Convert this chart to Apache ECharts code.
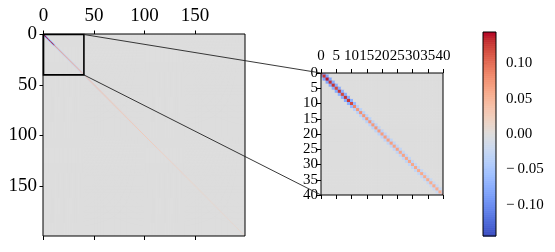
<!DOCTYPE html>
<html><head><meta charset="utf-8">
<script src="https://cdn.jsdelivr.net/npm/echarts@6/dist/echarts.min.js"></script>
<style>html,body{margin:0;padding:0;background:#fff}#c{width:555px;height:252px}</style>
</head><body><div id="c"></div>
<script>
// ---- data ----
const matrixSize = 200;
const diagValues = [
 0.11,0.13,0.14,0.13,0.13,0.12,0.13,0.12,0.13,0.13,0.12,
 0.085,0.075,0.080,0.075,0.074,0.076,0.072,0.074,0.071,0.070,
 0.070,0.068,0.069,0.066,0.067,0.064,0.065,0.062,0.063,0.061,
 0.062,0.060,0.061,0.059,0.060,0.058,0.059,0.057,0.058,0.065,
 0.052,0.050,0.051,0.049,0.050,0.048,0.049,0.047,0.048,0.046,0.047,0.045,0.046,0.045,0.044,0.045,0.043,0.044,0.042,0.043,
 0.042,0.041,0.042,0.040,0.041,0.040,0.039,0.040,0.038,0.039,0.038,0.037,0.038,0.037,0.036,0.037,0.036,0.035,0.036,0.035,
 0.034,0.035,0.034,0.033,0.034,0.033,0.032,0.033,0.032,0.031,0.032,0.031,0.030,0.031,0.030,0.030,0.029,0.030,0.029,0.028,
 0.029,0.028,0.028,0.027,0.028,0.027,0.027,0.026,0.027,0.026,0.026,0.025,0.026,0.025,0.025,0.024,0.025,0.024,0.024,0.023,
 0.024,0.023,0.023,0.023,0.022,0.023,0.022,0.022,0.021,0.022,0.021,0.021,0.021,0.020,0.021,0.020,0.020,0.020,0.019,0.020,
 0.019,0.019,0.019,0.019,0.018,0.019,0.018,0.018,0.018,0.018,0.017,0.018,0.017,0.017,0.017,0.017,0.016,0.017,0.016,0.016,
 0.016,0.016,0.016,0.015,0.016,0.015,0.015,0.015,0.015,0.015,0.014,0.015,0.014,0.014,0.014,0.014,0.014,0.013,0.014,0.013,
 0.013,0.013,0.013,0.013,0.013,0.012,0.013,0.012,0.012,0.012,0.012,0.012,0.012,0.011,0.012,0.011,0.011,0.011,0.011
];
const offDiagValues = [
 -0.075,-0.085,-0.080,-0.078,-0.074,-0.076,-0.072,-0.074,-0.075,-0.072,-0.062,
 -0.036,-0.034,-0.035,-0.033,-0.034,-0.032,-0.033,-0.031,-0.032,-0.030,
 -0.030,-0.029,-0.029,-0.028,-0.028,-0.027,-0.027,-0.026,-0.026,-0.025,
 -0.025,-0.024,-0.024,-0.023,-0.023,-0.022,-0.022,-0.021,-0.021,-0.020,
 -0.018,-0.016,-0.015,-0.014,-0.013,-0.012,-0.011,-0.011,-0.010,-0.010,-0.009,-0.009,-0.008,-0.008,-0.008,-0.007,-0.007,-0.007,-0.006,-0.006,
 -0.006,-0.006,-0.006,-0.006,-0.005,-0.005,-0.005,-0.005,-0.005,-0.005,-0.005,-0.005,-0.005,-0.004,-0.004,-0.004,-0.004,-0.004,-0.004,-0.004,
 -0.004,-0.004,-0.004,-0.004,-0.004,-0.004,-0.004,-0.004,-0.004,-0.004,-0.003,-0.003,-0.003,-0.003,-0.003,-0.003,-0.003,-0.003,-0.003,-0.003,
 -0.003,-0.003,-0.003,-0.003,-0.003,-0.003,-0.003,-0.003,-0.003,-0.003,-0.003,-0.003,-0.003,-0.003,-0.003,-0.003,-0.003,-0.003,-0.003,-0.003,
 -0.003,-0.003,-0.003,-0.003,-0.003,-0.003,-0.003,-0.003,-0.003,-0.003,-0.003,-0.003,-0.003,-0.003,-0.003,-0.003,-0.003,-0.003,-0.003,-0.003,
 -0.002,-0.002,-0.002,-0.002,-0.002,-0.002,-0.002,-0.002,-0.002,-0.002,-0.002,-0.002,-0.002,-0.002,-0.002,-0.002,-0.002,-0.002,-0.002,-0.002,
 -0.002,-0.002,-0.002,-0.002,-0.002,-0.002,-0.002,-0.002,-0.002,-0.002,-0.002,-0.002,-0.002,-0.002,-0.002,-0.002,-0.002,-0.002,-0.002,-0.002,
 -0.002,-0.002,-0.002,-0.002,-0.002,-0.002,-0.002,-0.002,-0.002,-0.002,-0.002,-0.002,-0.002,-0.002,-0.002,-0.002,-0.002,-0.002
];
const mainTicks = [0, 50, 100, 150];
const insetRange = [0, 40];
const insetTickStep = 5;
const colorbarTicks = [-0.10, -0.05, 0.00, 0.05, 0.10];
const colorMin = -0.144, colorMax = 0.144;
const coolwarm = ['#3b4cc0','#445acc','#4d68d7','#5775e1','#6282ea','#6c8ef1','#779af7','#82a5fb','#8db0fe','#98b9ff','#a3c2ff','#aec9fd','#b8d0f9','#c2d5f4','#ccd9ee','#d5dbe6','#dddddd','#e5d8d1','#ecd3c5','#f1ccb9','#f5c4ad','#f7bba0','#f7b194','#f7a687','#f49a7b','#f18d6f','#ec7f63','#e57058','#de604d','#d55042','#cb3e38','#c0282f','#b40426'];

// ---- build matrix ----
function cellValue(i, j) {
  if (i === j) return diagValues[i];
  if (Math.abs(i - j) === 1) return offDiagValues[Math.min(i, j)];
  return 0;
}
const mainData = [];
for (let y = 0; y < matrixSize; y++) for (let x = 0; x < matrixSize; x++) mainData.push([x, y, cellValue(x, y)]);
const insetData = [];
for (let y = insetRange[0]; y <= insetRange[1]; y++) for (let x = insetRange[0]; x <= insetRange[1]; x++) insetData.push([x, y, cellValue(x, y)]);
const cbData = [];
const cbLevels = 300;
for (let k = 0; k < cbLevels; k++) { const v = colorMin + (k + 0.5) * (colorMax - colorMin) / cbLevels; cbData.push([0.5, v, v]); }

// ---- layout ----
const G0 = {left: 43, top: 34, width: 202, height: 202};
const G1 = {left: 321, top: 73, width: 122, height: 122};
const G2 = {left: 483, top: 32, width: 13, height: 204};
const FONT_MAIN = {fontFamily: 'Liberation Serif', fontSize: 19, color: '#000'};
const FONT_SMALL = {fontFamily: 'Liberation Serif', fontSize: 15, color: '#000'};
const tickStyle = {lineStyle: {color: '#000', width: 1}};

function cellRender(params, api) {
  const x = api.value(0), y = api.value(1);
  const p0 = api.coord([x - 0.5, y - 0.5]);
  const p1 = api.coord([x + 0.5, y + 0.5]);
  const r = {x: Math.min(p0[0], p1[0]), y: Math.min(p0[1], p1[1]), width: Math.abs(p1[0] - p0[0]) + 0.6, height: Math.abs(p1[1] - p0[1]) + 0.6};
  const cs = params.coordSys;
  const c = echarts.graphic.clipRectByRect(r, {x: cs.x, y: cs.y, width: cs.width, height: cs.height});
  if (!c) return;
  return {type: 'rect', shape: c, style: {fill: api.visual('color')}};
}
function cbRender(params, api) {
  const step = (colorMax - colorMin) / cbLevels;
  const v = api.value(1);
  const p0 = api.coord([0, v + step / 2]);
  const p1 = api.coord([1, v - step / 2]);
  return {type: 'rect', shape: {x: p0[0], y: p0[1], width: p1[0] - p0[0], height: p1[1] - p0[1] + 0.6}, style: {fill: api.visual('color')}};
}

const chart = echarts.init(document.getElementById('c'), null, {renderer: 'canvas'});
const fmtCb = v => (v < 0 ? '\u2212\u2009' : '') + Math.abs(v).toFixed(2);
const mainMin = -0.5, mainMax = matrixSize - 0.5;

function mainAxis(pos, showLabel, inverse) {
  return {type: 'value', gridIndex: 0, position: pos, inverse: !!inverse, min: mainMin, max: mainMax, axisLine: {show: false},
    axisTick: Object.assign({show: true, length: 4, customValues: mainTicks}, tickStyle),
    axisLabel: showLabel ? Object.assign({customValues: mainTicks, margin: pos === 'top' ? 8 : 6}, FONT_MAIN) : {show: false},
    splitLine: {show: false}};
}

chart.setOption({
  animation: false,
  backgroundColor: '#fff',
  grid: [G0, G1, G2].map(g => Object.assign({containLabel: false}, g)),
  visualMap: {type: 'continuous', show: false, min: colorMin, max: colorMax, dimension: 2, seriesIndex: [0, 1, 2], inRange: {color: coolwarm}},
  xAxis: [
    mainAxis('top', true),
    mainAxis('bottom', false),
    {type: 'value', gridIndex: 1, position: 'top', min: insetRange[0], max: insetRange[1], interval: insetTickStep, axisLine: {show: false},
     axisTick: Object.assign({show: true, length: 4}, tickStyle),
     axisLabel: Object.assign({margin: 9, showMinLabel: true, showMaxLabel: true}, FONT_SMALL), splitLine: {show: false}},
    {type: 'value', gridIndex: 1, position: 'bottom', min: insetRange[0], max: insetRange[1], interval: insetTickStep, axisLine: {show: false},
     axisTick: Object.assign({show: true, length: 4}, tickStyle),
     axisLabel: {show: false}, splitLine: {show: false}},
    {type: 'value', gridIndex: 2, min: 0, max: 1, show: false}
  ],
  yAxis: [
    mainAxis('left', true, true),
    {type: 'value', gridIndex: 1, inverse: true, position: 'left', min: insetRange[0], max: insetRange[1], interval: insetTickStep, axisLine: {show: false},
     axisTick: Object.assign({show: true, length: 4}, tickStyle),
     axisLabel: Object.assign({margin: 3, showMinLabel: true, showMaxLabel: true}, FONT_SMALL), splitLine: {show: false}},
    {type: 'value', gridIndex: 2, position: 'right', min: colorMin, max: colorMax, axisLine: {show: false},
     axisTick: Object.assign({show: true, length: 4, customValues: colorbarTicks}, tickStyle),
     axisLabel: Object.assign({margin: 10, customValues: colorbarTicks, formatter: fmtCb}, FONT_SMALL), splitLine: {show: false}}
  ],
  series: [
    {type: 'custom', xAxisIndex: 0, yAxisIndex: 0, data: mainData, renderItem: cellRender, progressive: 0, clip: true, silent: true},
    {type: 'custom', xAxisIndex: 2, yAxisIndex: 1, data: insetData, renderItem: cellRender, progressive: 0, clip: true, silent: true},
    {type: 'custom', xAxisIndex: 4, yAxisIndex: 2, data: cbData, renderItem: cbRender, progressive: 0, silent: true}
  ]
});

// ---- frames, zoom rectangle and connector lines ----
const frame = (g) => ({type: 'rect', z: 100, shape: {x: g.left, y: g.top, width: g.width, height: g.height}, style: {fill: 'none', stroke: '#000', lineWidth: 1}});
const m00 = chart.convertToPixel({gridIndex: 0}, [insetRange[0], insetRange[0]]);
const m11 = chart.convertToPixel({gridIndex: 0}, [insetRange[1], insetRange[1]]);
const i00 = chart.convertToPixel({gridIndex: 1}, [insetRange[0], insetRange[0]]);
const i01 = chart.convertToPixel({gridIndex: 1}, [insetRange[0], insetRange[1]]);
chart.setOption({graphic: [
  frame(G0), frame(G1), frame(G2),
  {type: 'rect', z: 101, shape: {x: m00[0], y: m00[1], width: m11[0] - m00[0], height: m11[1] - m00[1]}, style: {fill: 'none', stroke: '#000', lineWidth: 1.6}},
  {type: 'line', z: 102, shape: {x1: m11[0], y1: m00[1], x2: i00[0], y2: i00[1]}, style: {stroke: '#222', lineWidth: 0.9}},
  {type: 'line', z: 102, shape: {x1: m11[0], y1: m11[1], x2: i01[0], y2: i01[1]}, style: {stroke: '#222', lineWidth: 0.9}}
]});
</script></body></html>
